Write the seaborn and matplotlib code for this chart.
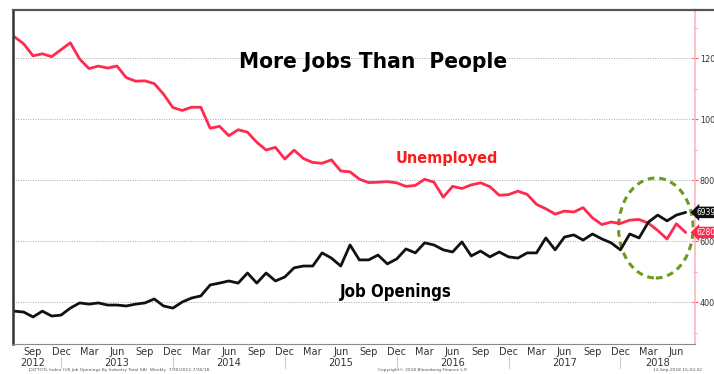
import numpy as np
import pandas as pd
import matplotlib
matplotlib.use("Agg")
import matplotlib.pyplot as plt
import matplotlib.transforms as mtransforms
from matplotlib.patches import Ellipse
from matplotlib.lines import Line2D
from matplotlib import font_manager
import seaborn as sns

# ---- data (thousands, monthly Jul 2012 - Jul 2018) ----
months = pd.date_range("2012-07-01", "2018-07-01", freq="MS")

unemployed = [
    12696, 12464, 12070, 12138, 12045, 12273,
    12497, 11967, 11653, 11735, 11671, 11736, 11357, 11241, 11251, 11161, 10814, 10376,
    10280, 10387, 10384, 9696, 9761, 9453, 9648, 9568, 9237, 8983, 9071, 8688,
    8979, 8705, 8575, 8549, 8660, 8299, 8266, 8029, 7915, 7927, 7946, 7907,
    7791, 7822, 8024, 7930, 7436, 7792, 7721, 7840, 7907, 7782, 7500, 7520,
    7635, 7528, 7202, 7056, 6881, 6981, 6951, 7094, 6760, 6541, 6621, 6576,
    6684, 6706, 6585, 6346, 6065, 6564, 6280,
]

job_openings = [
    3700, 3670, 3510, 3700, 3540, 3570,
    3800, 3970, 3930, 3970, 3900, 3900, 3870, 3930, 3970, 4100, 3870, 3800,
    4000, 4130, 4200, 4560, 4620, 4690, 4620, 4950, 4620, 4950, 4690, 4820,
    5120, 5180, 5180, 5610, 5440, 5180, 5870, 5380, 5380, 5540, 5250, 5410,
    5740, 5610, 5940, 5870, 5710, 5640, 5970, 5510, 5670, 5480, 5640, 5480,
    5440, 5610, 5610, 6100, 5710, 6130, 6200, 6030, 6230, 6070, 5940, 5710,
    6230, 6100, 6620, 6850, 6660, 6850, 6939,
]

title = "More Jobs Than  People"
series_names = ["Unemployed", "Job Openings"]
series_colors = {"Unemployed": "#ff2a4d", "Job Openings": "#111111"}
y_major = [4000, 6000, 8000, 10000, 12000]
y_minor = [3000, 5000, 7000, 9000, 11000, 13000]

# ---- fonts ----
sns.set_style("white")
available = {f.name for f in font_manager.fontManager.ttflist}
narrow = [n for n in ["Liberation Sans Narrow", "DejaVu Sans"] if n in available]
plt.rcParams["font.family"] = narrow + ["DejaVu Sans"]

df = pd.DataFrame({
    "idx": np.concatenate([np.arange(len(months))] * 2),
    "value": unemployed + job_openings,
    "series": [series_names[0]] * len(months) + [series_names[1]] * len(months),
})

fig = plt.figure(figsize=(7.14, 3.74), dpi=100)
ax = fig.add_axes([13 / 714, 1 - 344 / 374, (695 - 13) / 714, (344 - 10) / 374])

sns.lineplot(data=df, x="idx", y="value", hue="series", palette=series_colors,
             linewidth=2.0, legend=False, ax=ax)

ax.set_xlim(-0.15, 73.0)
ax.set_ylim(2623, 13574)
ax.set_xlabel("")
ax.set_ylabel("")

# ---- y axis on the right ----
ax.yaxis.tick_right()
ax.set_yticks(y_major)
ax.set_yticklabels([str(v) for v in y_major])
ax.set_yticks(y_minor, minor=True)
ax.tick_params(axis="y", which="major", direction="inout", length=4, width=0.8,
               color="#ff5a6e", labelsize=6.5, labelcolor="#333333", pad=1.5)
ax.tick_params(axis="y", which="minor", direction="inout", length=3, width=0.6,
               color="#ff8a98")
for lbl in ax.get_yticklabels():
    lbl.set_fontstretch("condensed")
ax.yaxis.grid(True, which="major", linestyle=(0, (1, 1.5)), color="#a8a8a8", linewidth=0.7)
ax.xaxis.grid(False)

# ---- spines ----
ax.spines["left"].set_color("#333333")
ax.spines["left"].set_linewidth(1.8)
ax.spines["top"].set_color("#555555")
ax.spines["top"].set_linewidth(1.6)
ax.spines["right"].set_color("#ffb6c0")
ax.spines["right"].set_linewidth(1.2)
ax.spines["bottom"].set_color("#8a8a8a")
ax.spines["bottom"].set_linewidth(0.8)
fig.add_artist(Line2D([695 / 714, 1.0], [1 - 10 / 374] * 2, color="#555555", lw=1.6))

# ---- x axis: quarter month labels + year row ----
label_idx = [i for i, m in enumerate(months) if m.month in (3, 6, 9, 12)]
ax.set_xticks(label_idx)
ax.set_xticklabels([months[i].strftime("%b") for i in label_idx])
ax.tick_params(axis="x", which="major", length=0, labelsize=7.8,
               labelcolor="#333333", pad=2)
for lbl in ax.get_xticklabels():
    lbl.set_fontstretch("condensed")
tick_idx = [i for i, m in enumerate(months) if m.month in (2, 5, 8, 11)]
ax.set_xticks(tick_idx, minor=True)
ax.tick_params(axis="x", which="minor", direction="out", length=2.5, width=0.6,
               color="#999999")

trans = mtransforms.blended_transform_factory(ax.transData, ax.transAxes)
for yr in sorted(set(months.year)):
    pos = [i for i, m in enumerate(months) if m.year == yr]
    ax.text((pos[0] + pos[-1]) // 2, -0.057, str(yr), transform=trans,
            ha="center", va="center", fontsize=7.8, fontstretch="condensed",
            color="#333333", clip_on=False)
    dec = [i for i in pos if months[i].month == 12]
    if dec:
        ax.add_line(Line2D([dec[0], dec[0]], [-0.039, -0.072], transform=trans,
                           color="#cccccc", lw=0.8, clip_on=False))

# ---- annotations ----
fig.text(373 / 714, 1 - 62 / 374, title, ha="center", va="center",
         fontsize=16.2, fontweight="bold", fontstretch="condensed", color="black")
fig.text(447 / 714, 1 - 158 / 374, series_names[0], ha="center", va="center",
         fontsize=11.6, fontweight="bold", fontstretch="condensed", color="#ff1a1a")
fig.text(396 / 714, 1 - 292 / 374, series_names[1], ha="center", va="center",
         fontsize=12.1, fontweight="bold", fontstretch="condensed", color="black")

ax.add_patch(Ellipse((68.8, 6426), width=8.0, height=3280, fill=False,
                     edgecolor="#6a9a1e", linewidth=2.2, linestyle=(0, (2.2, 1.6)),
                     clip_on=False))

# last-value tags on the right axis
ytrans = mtransforms.blended_transform_factory(ax.transAxes, ax.transData)
for vals, fc in [(job_openings, "#111111"), (unemployed, "#ff2a4d")]:
    ax.text(1.0025, vals[-1], f"{vals[-1]}", transform=ytrans, ha="left", va="center",
            fontsize=6, fontstretch="condensed", color="white", clip_on=False,
            bbox=dict(boxstyle="larrow,pad=0.15", fc=fc, ec="none"))

# footer
fig.text(0.04, 0.011, "JOLTTOTL Index (US Job Openings By Industry Total SA)  Weekly  7/30/2012-7/30/18",
         fontsize=3.2, color="#555555", ha="left", va="center")
fig.text(0.53, 0.011, "Copyright\u00a9 2018 Bloomberg Finance L.P.",
         fontsize=3.2, color="#555555", ha="left", va="center")
fig.text(0.915, 0.011, "12-Sep-2018 15:02:42", fontsize=3.2, color="#555555",
         ha="left", va="center")

fig.savefig("out.png", dpi=100)
